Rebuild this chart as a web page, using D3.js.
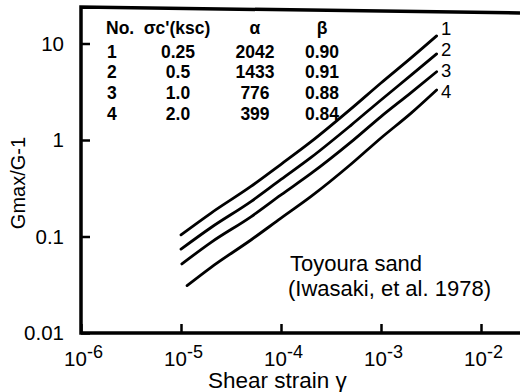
<!DOCTYPE html>
<html><head><meta charset="utf-8">
<script src="https://cdn.jsdelivr.net/npm/d3@7"></script>
<style>
html,body{margin:0;padding:0;background:#fff;}
svg{display:block;font-family:"Liberation Sans",Arial,Helvetica,sans-serif;}
</style></head>
<body><svg id="c" width="520" height="392"></svg>
<script>
// ---- data ----
const xTicks = [1e-6, 1e-5, 1e-4, 1e-3, 1e-2];
const xTickExp = ["-6", "-5", "-4", "-3", "-2"];
const yTicks = [0.01, 0.1, 1, 10];
const yTickLabels = ["0.01", "0.1", "1", "10"];
const curveNames = ["1", "2", "3", "4"];
const strain1 = [1e-5, 2e-5, 5e-5, 1e-4, 2e-4, 5e-4, 1e-3, 2e-3, 3.6e-3];
const curve1 = [0.104, 0.175, 0.33, 0.56, 0.96, 2.1, 3.9, 7.1, 12.0];
const strain2 = [1e-5, 2e-5, 5e-5, 1e-4, 2e-4, 5e-4, 1e-3, 2e-3, 3.6e-3];
const curve2 = [0.074, 0.124, 0.23, 0.39, 0.66, 1.42, 2.6, 4.7, 7.8];
const strain3 = [1.02e-5, 2e-5, 5e-5, 1e-4, 2e-4, 5e-4, 1e-3, 2e-3, 3.6e-3];
const curve3 = [0.052, 0.087, 0.16, 0.27, 0.45, 0.95, 1.75, 3.1, 5.1];
const strain4 = [1.15e-5, 2e-5, 5e-5, 1e-4, 2e-4, 5e-4, 1e-3, 2e-3, 3.6e-3];
const curve4 = [0.031, 0.048, 0.092, 0.155, 0.26, 0.56, 1.05, 1.9, 3.3];
const tableHeader = ["No.", "σc'(ksc)", "α", "β"];
const tableNo = ["1", "2", "3", "4"];
const tableSigma = ["0.25", "0.5", "1.0", "2.0"];
const tableAlpha = ["2042", "1433", "776", "399"];
const tableBeta = ["0.90", "0.91", "0.88", "0.84"];

// ---- layout ----
const L = 81, R = 520, B = 333;
const svg = d3.select("#c");
const x = d3.scaleLog().domain([1e-6, Math.pow(10, -6 + (R - L) / 100)]).range([L, R]);
const y = d3.scaleLog().domain([0.01, Math.pow(10, -2 + (B - 7) / 96.5)]).range([B, 7]);

// curves
const series = [[strain1, curve1], [strain2, curve2], [strain3, curve3], [strain4, curve4]];
const line = d3.line().x(d => x(d[0])).y(d => y(d[1])).curve(d3.curveMonotoneX);
series.forEach(([s, v]) => {
  svg.append("path").datum(s.map((g, i) => [g, v[i]]))
    .attr("d", line).attr("fill", "none").attr("stroke", "#000")
    .attr("stroke-width", 2.8).attr("stroke-linecap", "round");
});

// axes
const yAxis = d3.axisLeft(y).tickValues(yTicks).tickSizeInner(-9).tickSizeOuter(0)
  .tickPadding(17).tickFormat((d, i) => yTickLabels[i]);
const gy = svg.append("g").attr("transform", `translate(${L},0)`).call(yAxis);
gy.select(".domain").remove();
gy.selectAll(".tick line").attr("stroke", "#000").attr("stroke-width", 2.5);
gy.selectAll(".tick text").attr("font-size", 20.5).attr("fill", "#000")
  .attr("font-family", "Liberation Sans, Arial, sans-serif");

const xAxis = d3.axisBottom(x).tickValues(xTicks).tickSizeInner(-9).tickSizeOuter(0)
  .tickPadding(11).tickFormat(() => "");
const gx = svg.append("g").attr("transform", `translate(0,${B})`).call(xAxis);
gx.select(".domain").remove();
gx.selectAll(".tick line").attr("stroke", "#000").attr("stroke-width", 2.5);
gx.selectAll(".tick text").each(function (d, i) {
  const t = d3.select(this).attr("font-size", 20.5).attr("fill", "#000")
    .attr("font-family", "Liberation Sans, Arial, sans-serif").attr("dx", 2).attr("dy", "1.05em");
  t.append("tspan").text("10");
  t.append("tspan").attr("font-size", 18).attr("dy", -8).text(xTickExp[i]);
});

// frame (slightly tilted top edge as in the scanned figure)
svg.append("path").attr("d", `M${R},13L${L},7V${B}H${R}`)
  .attr("fill", "none").attr("stroke", "#000").attr("stroke-width", 3.5);

// axis titles
svg.append("text").attr("x", 208).attr("y", 388)
  .attr("font-size", 22.5).text("Shear strain γ");
svg.append("text").attr("transform", "translate(25,183) rotate(-90)").attr("text-anchor", "middle")
  .attr("font-size", 20).text("Gmax/G-1");

// table
const tab = svg.append("g").attr("font-size", 17.5).attr("font-weight", "bold").attr("fill", "#000");
const headX = [106, 177, 255, 322];
const colX = [107, 178, 255, 322];
const colAnchor = ["start", "middle", "middle", "middle"];
tableHeader.forEach((h, j) => tab.append("text").attr("x", headX[j]).attr("y", 34)
  .attr("text-anchor", colAnchor[j]).text(h));
[tableNo, tableSigma, tableAlpha, tableBeta].forEach((col, j) => {
  col.forEach((v, i) => tab.append("text").attr("x", colX[j]).attr("y", 57.5 + i * 20.7)
    .attr("text-anchor", colAnchor[j]).text(v));
});

// curve labels
curveNames.forEach((n, i) => svg.append("text").attr("x", 441).attr("y", 34.5 + i * 21.3)
  .attr("font-size", 18.5).text(n));

// annotation
svg.append("text").attr("x", 290).attr("y", 271).attr("font-size", 22).text("Toyoura sand");
svg.append("text").attr("x", 288).attr("y", 296).attr("font-size", 22).text("(Iwasaki, et al. 1978)");
</script></body></html>
